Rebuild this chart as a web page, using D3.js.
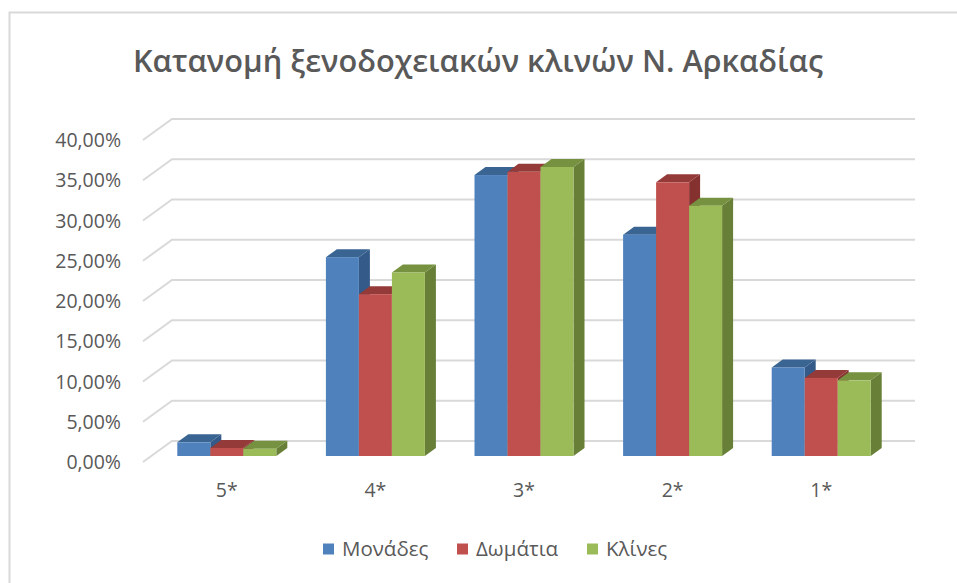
<!DOCTYPE html>
<html>
<head>
<meta charset="utf-8">
<script src="https://cdn.jsdelivr.net/npm/d3@7/dist/d3.min.js"></script>
<style>
  body { margin: 0; background: #fff; }
  text { font-family: "Open Sans", "Noto Sans", sans-serif; fill: #595959; }
</style>
</head>
<body>
<div id="chart"></div>
<script>
var categories = ["5*", "4*", "3*", "2*", "1*"];
var seriesNames = ["Μονάδες", "Δωμάτια", "Κλίνες"];
var monades = [1.7, 24.7, 34.9, 27.5, 11.0];
var domatia = [1.0, 20.1, 35.3, 34.0, 9.7];
var klines = [0.9, 22.8, 35.9, 31.1, 9.4];
var yTicks = [0, 5, 10, 15, 20, 25, 30, 35, 40];

var width = 957, height = 583;

// front colour, top face, side face
var colors = [
  ["#4f81bd", "#3a6593", "#335a88"],
  ["#c0504d", "#943a38", "#85312f"],
  ["#9bbb59", "#76913f", "#677f36"]
];

var svg = d3.select("#chart")
  .append("svg")
  .attr("width", width)
  .attr("height", height);

// chart border
svg.append("rect")
  .attr("x", 9.5).attr("y", 12.5)
  .attr("width", 1000).attr("height", 1000)
  .style("fill", "none")
  .style("stroke", "#d9d9d9")
  .style("stroke-width", 2);

svg.append("text")
  .attr("x", 478)
  .attr("y", 72)
  .attr("text-anchor", "middle")
  .attr("textLength", 690)
  .attr("lengthAdjust", "spacingAndGlyphs")
  .style("font-size", "31px")
  .style("font-weight", "600")
  .text("Κατανομή ξενοδοχειακών κλινών Ν. Αρκαδίας");

var locale = d3.formatLocale({decimal: ",", thousands: ".", grouping: [3], currency: ["", "€"]});
var fmt = locale.format(".2f");

// value scale, shared by the front plane, the back wall and the bars
var y = d3.scaleLinear().domain([0, 40]).range([0, 322]);
var frontY0 = 462, backY0 = 441, barY0 = 456;
var frontX0 = 143, backX0 = 172, backX1 = 915;
var depthX = 11, depthY = 8;

var grid = svg.append("g").attr("class", "grid");
grid.selectAll("polyline")
  .data(yTicks)
  .enter().append("polyline")
  .attr("points", function(t) {
    return frontX0 + "," + (frontY0 - y(t)) + " " +
      backX0 + "," + (backY0 - y(t)) + " " +
      backX1 + "," + (backY0 - y(t));
  })
  .style("fill", "none")
  .style("stroke", "#d9d9d9")
  .style("stroke-width", 2);

svg.append("g").selectAll("text")
  .data(yTicks)
  .enter().append("text")
  .attr("x", 121)
  .attr("y", function(t) { return frontY0 - y(t); })
  .attr("dy", "0.36em")
  .attr("text-anchor", "end")
  .style("font-size", "19.5px")
  .text(function(t) { return fmt(t) + "%"; });

var x = d3.scaleBand().domain(categories).range([152.5, 895.5]);
var xInner = d3.scaleBand().domain(seriesNames).range([0, 99]);
var groupPad = (x.bandwidth() - 99) / 2;

var allSeries = [monades, domatia, klines];
var bars = [];
categories.forEach(function(c, i) {
  allSeries.forEach(function(s, j) {
    bars.push({cat: c, series: seriesNames[j], idx: j, value: s[i]});
  });
});

var barG = svg.append("g").selectAll("g")
  .data(bars)
  .enter().append("g");

function px(d) { return x(d.cat) + groupPad + xInner(d.series); }

barG.append("polygon")
  .attr("points", function(d) {
    var x0 = px(d) + xInner.bandwidth(), yt = barY0 - y(d.value);
    return [[x0, barY0], [x0 + depthX, barY0 - depthY], [x0 + depthX, yt - depthY], [x0, yt]].join(" ");
  })
  .style("fill", function(d) { return colors[d.idx][2]; });

barG.append("polygon")
  .attr("points", function(d) {
    var x0 = px(d), x1 = x0 + xInner.bandwidth(), yt = barY0 - y(d.value);
    return [[x0, yt], [x0 + depthX, yt - depthY], [x1 + depthX, yt - depthY], [x1, yt]].join(" ");
  })
  .style("fill", function(d) { return colors[d.idx][1]; });

barG.append("rect")
  .attr("x", px)
  .attr("y", function(d) { return barY0 - y(d.value); })
  .attr("width", xInner.bandwidth())
  .attr("height", function(d) { return y(d.value); })
  .style("fill", function(d) { return colors[d.idx][0]; });

svg.append("g").selectAll("text")
  .data(categories)
  .enter().append("text")
  .attr("x", function(c) { return x(c) + x.bandwidth() / 2; })
  .attr("y", 490)
  .attr("dy", "0.36em")
  .attr("text-anchor", "middle")
  .style("font-size", "19.5px")
  .text(function(c) { return c; });

// legend
var legendX = [323, 457, 587];
var legend = svg.append("g").selectAll("g")
  .data(seriesNames)
  .enter().append("g")
  .attr("transform", function(d, i) { return "translate(" + legendX[i] + ",549)"; });
legend.append("rect")
  .attr("x", 0).attr("y", -5.5)
  .attr("width", 11).attr("height", 11)
  .style("fill", function(d, i) { return colors[i][0]; });
legend.append("text")
  .attr("x", 19)
  .attr("dy", "0.36em")
  .style("font-size", "20.5px")
  .text(function(d) { return d; });
</script>
</body>
</html>
